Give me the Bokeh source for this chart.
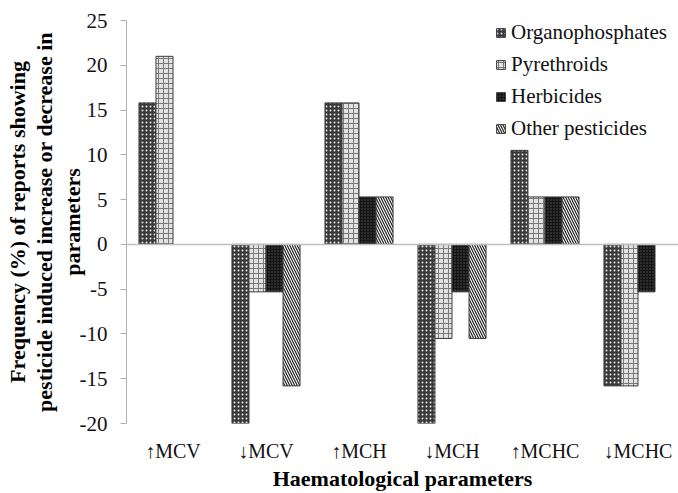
from bokeh.plotting import figure
from bokeh.models import (ColumnDataSource, Range1d, FixedTicker, Span, Legend,
                          LegendItem, CDSView, BooleanFilter)
from bokeh.transform import dodge
from bokeh.embed import file_html
from bokeh.resources import INLINE

categories = ["↑MCV", "↓MCV", "↑MCH", "↓MCH", "↑MCHC", "↓MCHC"]
organophosphates = [15.8, -20.0, 15.8, -20.0, 10.5, -15.8]
pyrethroids = [21.0, -5.3, 15.8, -10.5, 5.3, -15.8]
herbicides = [0.0, -5.3, 5.3, -5.3, 5.3, -5.3]
other_pesticides = [0.0, -15.8, 5.3, -10.5, 5.3, 0.0]
y_ticks = [-20, -15, -10, -5, 0, 5, 10, 15, 20, 25]

series_names = ["Organophosphates", "Pyrethroids", "Herbicides", "Other pesticides"]
series_values = [organophosphates, pyrethroids, herbicides, other_pesticides]

y_title = "Frequency (%) of reports showing\npesticide induced increase or decrease in\nparameters"
x_title = "Haematological parameters"

styles = [
    dict(fill_color="#3a3a3a", hatch_pattern="dot", hatch_color="#e6e6e6", hatch_scale=4, hatch_weight=1),
    dict(fill_color="#e2e2e2", hatch_pattern="cross", hatch_color="#7a7a7a", hatch_scale=5, hatch_weight=1),
    dict(fill_color="#141414", hatch_pattern="dot", hatch_color="#555555", hatch_scale=3, hatch_weight=1),
    dict(fill_color="white", hatch_pattern="left_diagonal_line", hatch_color="#222222", hatch_scale=5, hatch_weight=1.2),
]

FONT = "'Liberation Serif', 'DejaVu Serif', serif"

W, H = 678, 493
FL, FT, FB = 126, 20, 423          # frame left / top / bottom in pixels
CAT_PX = 93                        # pixel width of one category slot

xc = [i + 0.5 for i in range(len(categories))]

p = figure(width=W, height=H, output_backend="svg", toolbar_location=None,
           x_range=Range1d(0, (W - FL) / CAT_PX), y_range=Range1d(min(y_ticks), max(y_ticks)),
           min_border_left=FL, min_border_right=0, min_border_top=FT, min_border_bottom=H - FB)
p.outline_line_color = None
p.xgrid.grid_line_color = None
p.ygrid.grid_line_color = None
p.background_fill_color = "white"
p.border_fill_color = "white"

bar_w = 0.183
offsets = [-1.5 * bar_w, -0.5 * bar_w, 0.5 * bar_w, 1.5 * bar_w]

items = []
for name, vals, off, st in zip(series_names, series_values, offsets, styles):
    src = ColumnDataSource(dict(x=xc, top=vals))
    view = CDSView(filter=BooleanFilter([v != 0 for v in vals]))
    r = p.vbar(x=dodge("x", off, range=None), top="top", bottom=0, width=bar_w, source=src,
               view=view, line_color="#3c3c3c", line_width=1, **st)
    items.append(LegendItem(label=name, renderers=[r]))

p.add_layout(Span(location=0, dimension="width", line_color="#bfbfbf", line_width=1.5))

legend = Legend(items=items, location=(495 - FL, 282), margin=0, padding=0,
                border_line_color=None, background_fill_alpha=0,
                glyph_width=11, glyph_height=11, label_height=20, spacing=7,
                label_standoff=5, label_text_font=FONT, label_text_font_size="21px",
                label_text_color="#111111")
p.add_layout(legend)

# y axis
p.yaxis.ticker = FixedTicker(ticks=y_ticks)
p.yaxis.major_label_overrides = {t: str(t) for t in y_ticks}
p.yaxis.axis_line_color = "#b0b0b0"
p.yaxis.major_tick_line_color = "#b0b0b0"
p.yaxis.major_tick_out = 6
p.yaxis.major_tick_in = 0
p.yaxis.minor_tick_line_color = None
p.yaxis.major_label_standoff = 13
p.yaxis.major_label_text_font = FONT
p.yaxis.major_label_text_font_size = "21px"
p.yaxis.major_label_text_color = "#111111"
p.yaxis.axis_label = y_title
p.yaxis.axis_label_text_font = FONT
p.yaxis.axis_label_text_font_size = "22px"
p.yaxis.axis_label_text_font_style = "bold"
p.yaxis.axis_label_text_color = "#000000"
p.yaxis.axis_label_text_line_height = 1.1
p.yaxis.axis_label_standoff = -8

# x axis
p.xaxis.ticker = FixedTicker(ticks=xc)
p.xaxis.major_label_overrides = {x: c for x, c in zip(xc, categories)}
p.xaxis.axis_line_color = None
p.xaxis.major_tick_line_color = None
p.xaxis.minor_tick_line_color = None
p.xaxis.major_label_standoff = 10
p.xaxis.major_label_text_font = FONT
p.xaxis.major_label_text_font_size = "20px"
p.xaxis.major_label_text_color = "#111111"
p.xaxis.axis_label = x_title
p.xaxis.axis_label_text_font = FONT
p.xaxis.axis_label_text_font_size = "22px"
p.xaxis.axis_label_text_font_style = "bold"
p.xaxis.axis_label_text_color = "#000000"
p.xaxis.axis_label_standoff = 1

open("out.html", "w").write(file_html(p, INLINE))
